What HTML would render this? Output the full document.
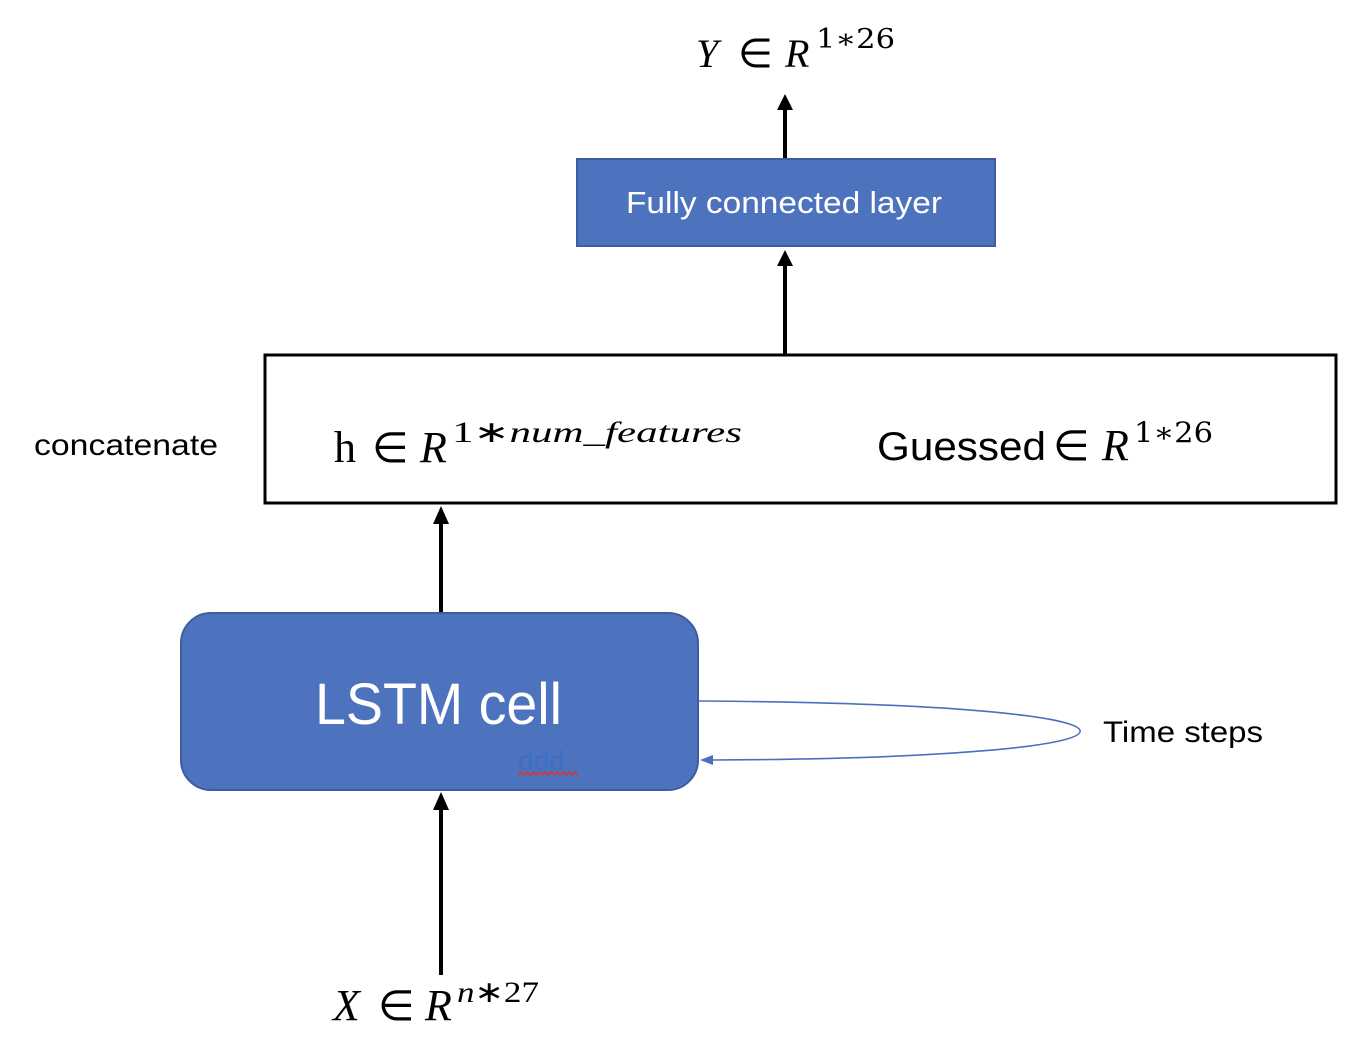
<!DOCTYPE html>
<html><head><meta charset="utf-8"><style>
html,body{margin:0;padding:0;background:#fff;width:1362px;height:1058px;overflow:hidden}
</style></head><body>
<svg width="1362" height="1058" viewBox="0 0 1362 1058" xmlns="http://www.w3.org/2000/svg">
<!-- Y label -->
<text x="696" y="67" font-family="Liberation Serif, serif" font-style="italic" font-size="40">Y</text>
<text x="738" y="67" font-family="DejaVu Sans, sans-serif" font-size="40">∈</text>
<text x="785" y="67" font-family="Liberation Serif, serif" font-style="italic" font-size="40">R</text>
<text x="816" y="48" font-family="DejaVu Serif, serif" font-size="27" textLength="79" lengthAdjust="spacingAndGlyphs">1∗26</text>
<!-- arrow to Y -->
<line x1="785" y1="158" x2="785" y2="108" stroke="#000" stroke-width="4"/>
<path d="M777,110 L785,94 L793,110 z" fill="#000"/>
<!-- FC layer -->
<rect x="577" y="159" width="418" height="87" fill="#4e73be" stroke="#3d5d9e" stroke-width="2"/>
<text x="626" y="213" font-family="Liberation Sans, sans-serif" font-size="31" fill="#fff" textLength="316" lengthAdjust="spacingAndGlyphs">Fully connected layer</text>
<!-- arrow to FC -->
<line x1="785" y1="355" x2="785" y2="264" stroke="#000" stroke-width="4"/>
<path d="M777,266 L785,250 L793,266 z" fill="#000"/>
<!-- concat box -->
<rect x="265" y="355" width="1071" height="148" fill="#fff" stroke="#000" stroke-width="3"/>
<text x="34" y="455" font-family="Liberation Sans, sans-serif" font-size="30" textLength="184" lengthAdjust="spacingAndGlyphs">concatenate</text>
<text x="334" y="462" font-family="Liberation Serif, serif" font-size="44">h</text>
<text x="372" y="462" font-family="DejaVu Sans, sans-serif" font-size="42">∈</text>
<text x="420" y="462" font-family="Liberation Serif, serif" font-style="italic" font-size="44">R</text>
<text x="452" y="442" font-family="Liberation Serif, serif" font-size="30" textLength="290" lengthAdjust="spacingAndGlyphs">1∗<tspan font-style="italic">num_features</tspan></text>
<text x="877" y="460" font-family="Liberation Sans, sans-serif" font-size="40" textLength="169" lengthAdjust="spacingAndGlyphs">Guessed</text>
<text x="1053" y="460" font-family="DejaVu Sans, sans-serif" font-size="42">∈</text>
<text x="1102" y="460" font-family="Liberation Serif, serif" font-style="italic" font-size="44">R</text>
<text x="1134" y="442" font-family="DejaVu Serif, serif" font-size="28" textLength="79" lengthAdjust="spacingAndGlyphs">1∗26</text>
<!-- arrow LSTM -> concat -->
<line x1="441" y1="612" x2="441" y2="522" stroke="#000" stroke-width="4"/>
<path d="M433,524 L441,506 L449,524 z" fill="#000"/>
<!-- LSTM cell -->
<rect x="181" y="613" width="517" height="177" rx="30" fill="#4e73be" stroke="#3d5d9e" stroke-width="2"/>
<text x="315" y="724" font-family="Liberation Sans, sans-serif" font-size="58" fill="#fff" textLength="247" lengthAdjust="spacingAndGlyphs">LSTM cell</text>
<text x="518" y="770" font-family="Liberation Sans, sans-serif" font-size="28" fill="#3a6fc4">ddd</text>
<path d="M518,775 l3,-3 l3,3 l3,-3 l3,3 l3,-3 l3,3 l3,-3 l3,3 l3,-3 l3,3 l3,-3 l3,3 l3,-3 l3,3 l3,-3 l3,3 l3,-3 l3,3 l3,-3 l3,3" fill="none" stroke="#e0302a" stroke-width="1.5"/>
<!-- loop -->
<path d="M699,701 C1205,704 1205,758 712,760" fill="none" stroke="#4a6fc0" stroke-width="1.6"/>
<path d="M700,760 L713,755 L713,765 z" fill="#4a6fc0"/>
<text x="1103" y="742" font-family="Liberation Sans, sans-serif" font-size="30" textLength="160" lengthAdjust="spacingAndGlyphs">Time steps</text>
<!-- arrow X -> LSTM -->
<line x1="441" y1="975" x2="441" y2="808" stroke="#000" stroke-width="4"/>
<path d="M433,810 L441,792 L449,810 z" fill="#000"/>
<!-- X label -->
<text x="333" y="1020" font-family="Liberation Serif, serif" font-style="italic" font-size="44">X</text>
<text x="378" y="1020" font-family="DejaVu Sans, sans-serif" font-size="42">∈</text>
<text x="425" y="1020" font-family="Liberation Serif, serif" font-style="italic" font-size="44">R</text>
<text x="457" y="1002" font-family="Liberation Serif, serif" font-size="30" textLength="82" lengthAdjust="spacingAndGlyphs"><tspan font-style="italic">n</tspan>∗27</text>
</svg>
</body></html>
